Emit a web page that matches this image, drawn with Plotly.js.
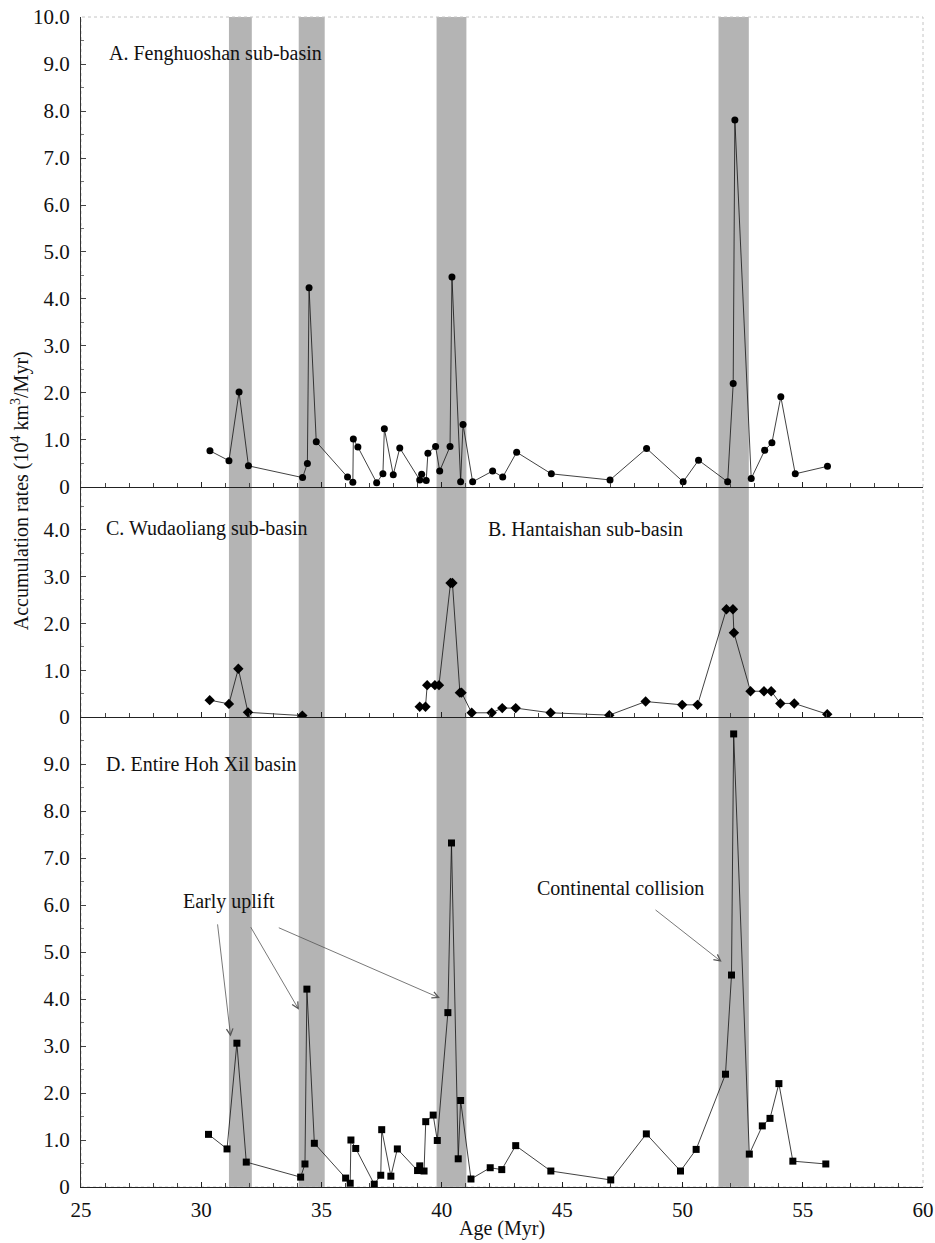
<!DOCTYPE html>
<html>
<head>
<meta charset="utf-8">
<script src="https://cdn.plot.ly/plotly-3.0.1.min.js"></script>
<style>html,body{margin:0;padding:0;background:#fff;}#chart{width:935px;height:1243px;}</style>
</head>
<body>
<div id="chart"></div>
<script>
// Panel A: Fenghuoshan sub-basin (circles)
const ageA = [30.36, 31.15, 31.57, 31.96, 34.21, 34.41, 34.48, 34.78, 36.08, 36.30, 36.32, 36.51, 37.29, 37.55, 37.61, 37.98, 38.25, 39.08, 39.16, 39.35, 39.42, 39.74, 39.91, 40.34, 40.42, 40.78, 40.88, 41.28, 42.11, 42.53, 43.11, 44.55, 46.99, 48.51, 50.03, 50.67, 51.88, 52.11, 52.18, 52.86, 53.42, 53.72, 54.09, 54.69, 56.03];
const rateA = [0.77, 0.56, 2.02, 0.45, 0.20, 0.50, 4.24, 0.96, 0.21, 0.10, 1.02, 0.85, 0.09, 0.28, 1.24, 0.26, 0.83, 0.15, 0.27, 0.14, 0.72, 0.86, 0.34, 0.86, 4.47, 0.11, 1.33, 0.11, 0.34, 0.21, 0.74, 0.28, 0.15, 0.82, 0.11, 0.57, 0.11, 2.20, 7.81, 0.18, 0.78, 0.94, 1.92, 0.28, 0.44];

// Panel C: Wudaoliang sub-basin (diamonds)
const ageC = [30.35, 31.15, 31.54, 31.94, 34.20];
const rateC = [0.36, 0.28, 1.03, 0.10, 0.03];

// Panel B: Hantaishan sub-basin (diamonds)
const ageB = [39.08, 39.32, 39.39, 39.71, 39.88, 40.36, 40.44, 40.75, 40.82, 41.24, 42.07, 42.51, 43.07, 44.52, 46.96, 48.47, 49.99, 50.63, 51.83, 52.10, 52.14, 52.83, 53.39, 53.69, 54.07, 54.65, 56.02];
const rateB = [0.22, 0.22, 0.68, 0.68, 0.68, 2.86, 2.86, 0.52, 0.52, 0.09, 0.09, 0.19, 0.19, 0.09, 0.04, 0.33, 0.26, 0.26, 2.30, 2.30, 1.80, 0.55, 0.55, 0.55, 0.29, 0.29, 0.06];

// Panel D: Entire Hoh Xil basin (squares)
const ageD = [30.30, 31.07, 31.48, 31.87, 34.13, 34.31, 34.39, 34.70, 36.00, 36.19, 36.22, 36.42, 37.19, 37.46, 37.50, 37.88, 38.15, 38.99, 39.08, 39.26, 39.33, 39.64, 39.81, 40.25, 40.40, 40.68, 40.78, 41.21, 42.01, 42.49, 43.07, 44.53, 47.02, 48.50, 49.92, 50.57, 51.79, 52.04, 52.13, 52.78, 53.32, 53.64, 54.01, 54.59, 55.96];
const rateD = [1.12, 0.81, 3.06, 0.53, 0.21, 0.49, 4.21, 0.93, 0.19, 0.08, 1.00, 0.82, 0.06, 0.25, 1.22, 0.23, 0.81, 0.35, 0.45, 0.34, 1.39, 1.53, 0.99, 3.71, 7.32, 0.60, 1.84, 0.17, 0.41, 0.37, 0.88, 0.34, 0.15, 1.13, 0.34, 0.80, 2.40, 4.51, 9.64, 0.70, 1.30, 1.46, 2.20, 0.55, 0.49];

// Shaded intervals (Myr)
const bandStart = [31.15, 34.05, 39.78, 51.50];
const bandEnd   = [32.10, 35.13, 41.02, 52.76];

// Tick labels
const xTicks = [25, 30, 35, 40, 45, 50, 55, 60];
const yTicksTop = [0, 1, 2, 3, 4, 5, 6, 7, 8, 9, 10];
const yTicksMid = [0, 1, 2, 3, 4];
const yTicksBot = [0, 1, 2, 3, 4, 5, 6, 7, 8, 9];
const fmt = v => v === 0 ? '0' : v.toFixed(1);

const FONT = 'Liberation Serif, Times New Roman, serif';
const lineStyle = {color: '#111', width: 0.8};

const traces = [
  {x: ageA, y: rateA, xaxis: 'x3', yaxis: 'y3', mode: 'lines+markers', line: lineStyle,
   marker: {symbol: 'circle', size: 7, color: '#000'}, name: 'A'},
  {x: ageC, y: rateC, xaxis: 'x2', yaxis: 'y2', mode: 'lines+markers', line: lineStyle,
   marker: {symbol: 'diamond', size: 8, color: '#000'}, name: 'C'},
  {x: ageB, y: rateB, xaxis: 'x2', yaxis: 'y2', mode: 'lines+markers', line: lineStyle,
   marker: {symbol: 'diamond', size: 8, color: '#000'}, name: 'B'},
  {x: ageD, y: rateD, xaxis: 'x', yaxis: 'y', mode: 'lines+markers', line: lineStyle,
   marker: {symbol: 'square', size: 7, color: '#000'}, name: 'D'}
];

const hBot = 0.4017, hMid = 0.5983;

function xAx(anchor, labels) {
  return {
    range: [25, 60], domain: [0, 1], anchor: anchor,
    tickvals: xTicks, ticktext: xTicks.map(String), showticklabels: labels,
    ticks: 'inside', ticklen: 5, tickcolor: '#222', tickwidth: 1,
    minor: {dtick: 1, ticks: 'inside', ticklen: 4, tickcolor: '#444', tickwidth: 1},
    showline: true, linecolor: '#222', linewidth: 1.2,
    showgrid: false, zeroline: false, fixedrange: true,
    tickfont: {family: FONT, size: 21, color: '#111'}, ticklabelstandoff: 4
  };
}
function yAx(domain, range, ticks, anchor) {
  return {
    domain: domain, range: range, anchor: anchor,
    tickvals: ticks, ticktext: ticks.map(fmt),
    ticks: 'inside', ticklen: 5, tickcolor: '#444', tickwidth: 1,
    minor: {dtick: 0.5, ticks: 'inside', ticklen: 3, tickcolor: '#777', tickwidth: 1},
    showline: true, linecolor: '#333', linewidth: 1,
    showgrid: false, zeroline: false, fixedrange: true,
    tickfont: {family: FONT, size: 21, color: '#111'}, ticklabelstandoff: 6
  };
}

const shapes = bandStart.map((s, i) => ({
  type: 'rect', xref: 'x', yref: 'paper', x0: s, x1: bandEnd[i], y0: 0, y1: 1,
  fillcolor: '#b4b4b4', line: {width: 0}, layer: 'below'
}));
shapes.push({type: 'rect', xref: 'paper', yref: 'paper', x0: 0, x1: 1, y0: 0, y1: 1,
  line: {color: '#c4c4c4', width: 1, dash: 'dot'}, layer: 'below'});

const txt = (text, x, y, xref, yref, extra) => Object.assign({
  text: text, x: x, y: y, xref: xref, yref: yref, showarrow: false,
  xanchor: 'left', yanchor: 'middle', font: {family: FONT, size: 20, color: '#111'}
}, extra || {});

const arrow = (x, y, ax, ay) => ({
  x: x, y: y, ax: ax, ay: ay, xref: 'x', yref: 'y', axref: 'x', ayref: 'y',
  text: '', showarrow: true, arrowhead: 5, arrowsize: 1.6, arrowwidth: 0.8, arrowcolor: '#555'
});

const annotations = [
  txt('A. Fenghuoshan sub-basin', 26.08, 9.22, 'x3', 'y3'),
  txt('C. Wudaoliang sub-basin', 25.95, 4.02, 'x2', 'y2'),
  txt('B. Hantaishan sub-basin', 41.85, 4.02, 'x2', 'y2'),
  txt('D. Entire Hoh Xil basin', 25.95, 9.0, 'x', 'y'),
  txt('Early uplift', 31.15, 6.07, 'x', 'y', {xanchor: 'center'}),
  txt('Continental collision', 47.42, 6.37, 'x', 'y', {xanchor: 'center'}),
  arrow(31.22, 3.20, 30.67, 5.62),
  arrow(34.06, 3.77, 32.02, 5.56),
  arrow(39.92, 4.02, 33.16, 5.53),
  arrow(51.63, 4.79, 48.82, 5.92),
  txt('Accumulation rates (10<sup>4</sup> km<sup>3</sup>/Myr)', -0.072, 0.595, 'paper', 'paper',
      {xanchor: 'center', textangle: -90}),
  txt('Age (Myr)', 0.5, -0.0355, 'paper', 'paper', {xanchor: 'center', yanchor: 'middle'})
];

const layout = {
  width: 935, height: 1243,
  margin: {l: 81, r: 12, t: 17, b: 56},
  paper_bgcolor: '#fff', plot_bgcolor: 'rgba(0,0,0,0)',
  showlegend: false,
  xaxis: xAx('y', true),
  xaxis2: Object.assign(xAx('y2', false), {matches: 'x'}),
  xaxis3: Object.assign(xAx('y3', false), {matches: 'x'}),
  yaxis: yAx([0, hBot], [0, 10], yTicksBot, 'x'),
  yaxis2: yAx([hBot, hMid], [0, 4.91], yTicksMid, 'x2'),
  yaxis3: yAx([hMid, 1], [0, 10], yTicksTop, 'x3'),
  shapes: shapes,
  annotations: annotations
};

Plotly.newPlot('chart', traces, layout, {displayModeBar: false, staticPlot: true});
</script>
</body>
</html>
